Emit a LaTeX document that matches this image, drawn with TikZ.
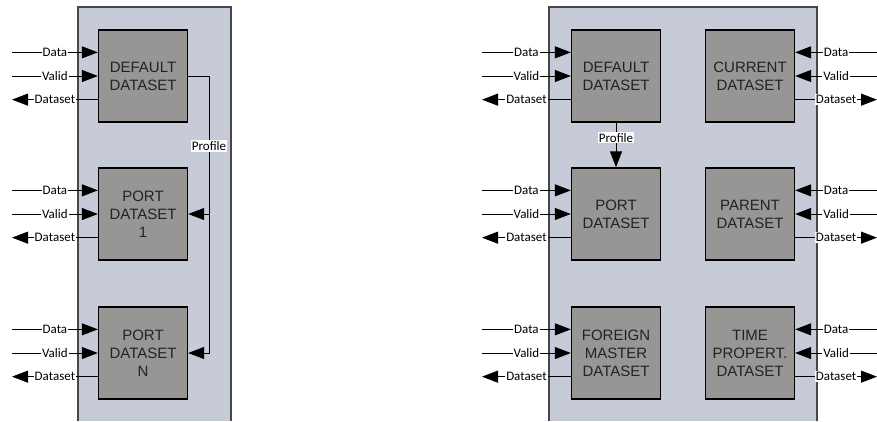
\documentclass[tikz,border=0pt]{standalone}
\usepackage{fontspec}
\usetikzlibrary{arrows.meta}
\newfontfamily\boxfont{Liberation Sans}
\newfontfamily\lblfont{Carlito}
\definecolor{panelc}{RGB}{199,203,215}
\definecolor{panelline}{RGB}{70,70,75}
\definecolor{boxc}{RGB}{152,150,148}
\definecolor{boxtext}{RGB}{35,35,35}
\tikzset{
  x=1pt, y=-1pt,
  dbox/.style={rectangle, draw=black, line width=1.3pt, fill=boxc,
    minimum width=89pt, minimum height=92pt, inner sep=0pt, align=center,
    text=boxtext, font=\boxfont\fontsize{15}{18}\selectfont},
  sig/.style={line width=1pt, -{Triangle[length=16pt,width=12pt]}},
  wire/.style={line width=1pt},
  lbl/.style={fill=white, inner sep=1pt, font=\lblfont\fontsize{13}{13}\selectfont},
  panelside/.style={draw=panelline, line width=1.3pt},
}
% three signal rows at a quarter, half and three quarters of a block's height
\newcommand\rowsof[1]{%
  \path (#1.north west) ++(0,23) coordinate (#1-wa)
        (#1.west) coordinate (#1-wb)
        (#1.south west) ++(0,-23) coordinate (#1-wc)
        (#1.north east) ++(0,23) coordinate (#1-ea)
        (#1.east) coordinate (#1-eb)
        (#1.south east) ++(0,-23) coordinate (#1-ec);}
% Data / Valid in, Dataset out on the left side
\newcommand\leftio[2]{%
  \rowsof{#1}%
  \coordinate (#1-da) at (#2,0 |- #1-wa);
  \coordinate (#1-db) at (#2,0 |- #1-wb);
  \coordinate (#1-dc) at (#2,0 |- #1-wc);
  \draw[sig] (#1-da) -- node[lbl]{Data} (#1-wa);
  \draw[sig] (#1-db) -- node[lbl]{Valid} (#1-wb);
  \draw[sig] (#1-wc) -- node[lbl]{Dataset} (#1-dc);}
% Data / Valid in, Dataset out on the right side
\newcommand\rightio[2]{%
  \rowsof{#1}%
  \coordinate (#1-da) at (#2,0 |- #1-ea);
  \coordinate (#1-db) at (#2,0 |- #1-eb);
  \coordinate (#1-dc) at (#2,0 |- #1-ec);
  \draw[sig] (#1-da) -- node[lbl]{Data} (#1-ea);
  \draw[sig] (#1-db) -- node[lbl]{Valid} (#1-eb);
  \draw[sig] (#1-ec) -- node[lbl]{Dataset} (#1-dc);}
\begin{document}
\begin{tikzpicture}
\useasboundingbox (0,0) rectangle (877,421);
% panels, open at the bottom edge
\fill[panelc] (78,7) rectangle (231,421);
\draw[panelside] (78,421) -- (78,7) -- (231,7) -- (231,421);
\fill[panelc] (549,7) rectangle (817,421);
\draw[panelside] (549,421) -- (549,7) -- (817,7) -- (817,421);

% left unit
\node[dbox] (def) at (143,76) {DEFAULT\\DATASET};
\node[dbox] (port1) at (143,214) {PORT\\DATASET\\1};
\node[dbox] (portn) at (143,353) {PORT\\DATASET\\N};
\leftio{def}{12}
\leftio{port1}{12}
\leftio{portn}{12}
\coordinate (bus) at (209,0);
\draw[sig] (def.east) -| (bus |- portn.east) -- (portn.east);
\draw[sig] (bus |- port1.east) -- (port1.east);
\node[lbl] (proflab) at (209,146) {Profile};

% right unit
\node[dbox] (def2) at (616,76) {DEFAULT\\DATASET};
\node[dbox] (port2) at (616,214) {PORT\\DATASET};
\node[dbox] (foreign) at (616,353) {FOREIGN\\MASTER\\DATASET};
\node[dbox] (current) at (750,76) {CURRENT\\DATASET};
\node[dbox] (parent) at (750,214) {PARENT\\DATASET};
\node[dbox] (timeprop) at (750,353) {TIME\\PROPERT.\\DATASET};
\leftio{def2}{482}
\leftio{port2}{482}
\leftio{foreign}{482}
\rightio{current}{877}
\rightio{parent}{877}
\rightio{timeprop}{877}
\draw[sig] (def2.south) -- node[lbl, pos=0.34]{Profile} (port2.north);
\end{tikzpicture}
\end{document}
